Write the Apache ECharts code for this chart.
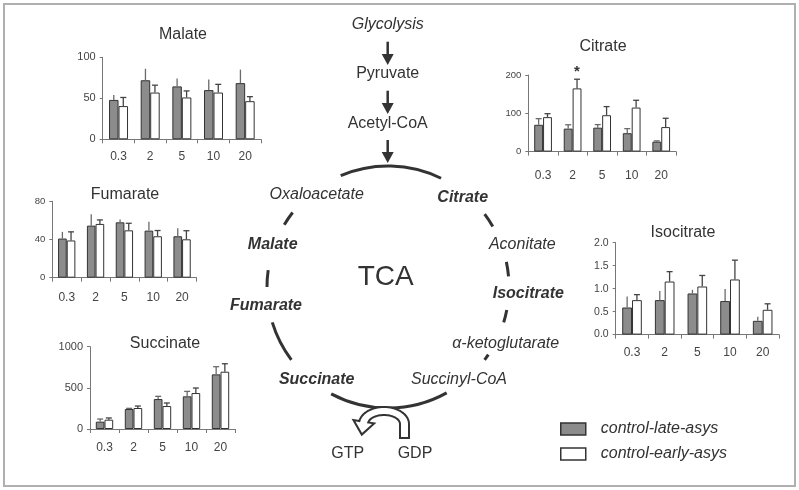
<!DOCTYPE html>
<html><head><meta charset="utf-8">
<script src="https://cdn.jsdelivr.net/npm/echarts@6/dist/echarts.min.js"></script>
<style>html,body{margin:0;padding:0;background:#fff}#c{width:799px;height:490px}</style>
</head><body><div id="c"></div><script>
// ---------- DATA ----------
const categories = ['0.3', '2', '5', '10', '20'];
const seriesNames = ['control-late-asys', 'control-early-asys'];

const malateLate = [48, 72, 64.5, 60, 68.5];
const malateLateSD = [6, 14, 9.5, 13, 16.5];
const malateEarly = [40.5, 57, 51, 57, 46.5];
const malateEarlySD = [10.5, 9, 8, 10, 5.5];
const malateTicks = [0, 50, 100];

const citrateLate = [70, 60, 62.5, 48, 26];
const citrateLateSD = [16, 10, 8, 12, 2];
const citrateEarly = [90, 165, 95, 115, 64];
const citrateEarlySD = [9, 24, 22.5, 19, 23];
const citrateEarlySig = ['', '*', '', '', ''];
const citrateTicks = [0, 100, 200];

const fumarateLate = [41, 54.5, 58, 49.3, 43.4];
const fumarateLateSD = [7, 12, 3, 9.4, 8.3];
const fumarateEarly = [39, 56.3, 49.6, 43.4, 40.2];
const fumarateEarlySD = [9, 4.2, 7.4, 6, 9];
const fumarateTicks = [0, 40, 80];

const isocitrateLate = [0.59, 0.75, 0.895, 0.73, 0.30];
const isocitrateLateSD = [0.24, 0.2, 0.08, 0.26, 0.09];
const isocitrateEarly = [0.75, 1.155, 1.047, 1.2, 0.54];
const isocitrateEarlySD = [0.12, 0.215, 0.24, 0.42, 0.13];
const isocitrateTicks = [0, 0.5, 1.0, 1.5, 2.0];

const succinateLate = [89, 243, 364, 397, 664];
const succinateLateSD = [32, 8, 33, 60, 93];
const succinateEarly = [113, 255, 279, 437, 696];
const succinateEarlySD = [21, 24, 37, 61, 97];
const succinateTicks = [0, 500, 1000];

// ---------- LAYOUT ----------
const FONT = '"Liberation Sans", Arial, sans-serif';
const TXT = '#333';
const panels = [
  {title:'Malate', late:malateLate, lateSD:malateLateSD, early:malateEarly, earlySD:malateEarlySD, ticks:malateTicks, dec:0,
   grid:{left:102.7, top:57.3, width:158.3, height:82}, tx:183, ty:35, xm:11, yf:11, lateCap:false},
  {title:'Citrate', late:citrateLate, lateSD:citrateLateSD, early:citrateEarly, earlySD:citrateEarlySD, earlySig:citrateEarlySig, ticks:citrateTicks, dec:0,
   grid:{left:528.3, top:75, width:147.7, height:76.6}, tx:603, ty:47, xm:18, yf:9.5, lateCap:true},
  {title:'Fumarate', late:fumarateLate, lateSD:fumarateLateSD, early:fumarateEarly, earlySD:fumarateEarlySD, ticks:fumarateTicks, dec:0,
   grid:{left:52.3, top:201.3, width:144.2, height:76.4}, tx:125, ty:195, xm:14, yf:9.5, lateCap:false},
  {title:'Isocitrate', late:isocitrateLate, lateSD:isocitrateLateSD, early:isocitrateEarly, earlySD:isocitrateEarlySD, ticks:isocitrateTicks, dec:1,
   grid:{left:615.7, top:242.7, width:163.3, height:91.9}, tx:683, ty:233, xm:12, yf:10.5, lateCap:false},
  {title:'Succinate', late:succinateLate, lateSD:succinateLateSD, early:succinateEarly, earlySD:succinateEarlySD, ticks:succinateTicks, dec:0,
   grid:{left:90, top:346.7, width:145, height:82.3}, tx:165, ty:344, xm:13, yf:11, lateCap:true}
];

function errRender(side, cap, sig) {
  return function (params, api) {
    const i = api.value(0), v = api.value(1), sd = api.value(2);
    const base = api.coord([i, v]);
    const top = api.coord([i, v + sd]);
    const band = api.size([1, 0])[0];
    const bw = band * 0.3;
    const x = base[0] + (side === 0 ? -bw / 2 : bw / 2);
    const col = side === 0 ? '#6a6a6a' : '#444';
    const ch = [{type:'line', shape:{x1:x, y1:base[1], x2:x, y2:top[1]}, style:{stroke:col, lineWidth:1.3}}];
    if (cap) ch.push({type:'line', shape:{x1:x - 3, y1:top[1], x2:x + 3, y2:top[1]}, style:{stroke:col, lineWidth:1.3}});
    if (sig && sig[i]) ch.push({type:'text', style:{text:sig[i], x:x, y:top[1], textAlign:'center', textVerticalAlign:'bottom', font:'bold 15px ' + FONT, fill:TXT}});
    return {type:'group', children:ch};
  };
}

const grids = [], xAxes = [], yAxes = [], series = [], graphics = [];
panels.forEach((p, k) => {
  grids.push(Object.assign({containLabel:false}, p.grid));
  xAxes.push({gridIndex:k, type:'category', data:categories, boundaryGap:true,
    axisLine:{lineStyle:{color:'#777', width:1}},
    axisTick:{show:true, length:4, lineStyle:{color:'#777'}},
    axisLabel:{color:'#444', fontSize:12, fontFamily:FONT, margin:p.xm}});
  const t = p.ticks;
  yAxes.push({gridIndex:k, type:'value', min:t[0], max:t[t.length - 1], interval:t[1] - t[0],
    splitLine:{show:false},
    axisLine:{show:true, lineStyle:{color:'#777', width:1}},
    axisTick:{show:true, length:3, lineStyle:{color:'#777'}},
    axisLabel:{color:'#444', fontSize:p.yf, fontFamily:FONT, margin:7,
      formatter:(v) => Number(v).toFixed(p.dec)}});
  series.push({name:seriesNames[0], type:'bar', xAxisIndex:k, yAxisIndex:k, data:p.late,
    barGap:'0%', barCategoryGap:'40%', silent:true,
    itemStyle:{color:'#8c8c8c', borderColor:'#333', borderWidth:1}});
  series.push({name:seriesNames[1], type:'bar', xAxisIndex:k, yAxisIndex:k, data:p.early,
    barGap:'0%', barCategoryGap:'40%', silent:true,
    itemStyle:{color:'#ffffff', borderColor:'#333', borderWidth:1}});
  series.push({type:'custom', xAxisIndex:k, yAxisIndex:k, silent:true, z:5,
    data:p.late.map((v, i) => [i, v, p.lateSD[i]]), encode:{x:0, y:1},
    renderItem:errRender(0, p.lateCap, null)});
  series.push({type:'custom', xAxisIndex:k, yAxisIndex:k, silent:true, z:5,
    data:p.early.map((v, i) => [i, v, p.earlySD[i]]), encode:{x:0, y:1},
    renderItem:errRender(1, true, p.earlySig)});
  graphics.push({type:'text', silent:true, style:{text:p.title, x:p.tx, y:p.ty, textAlign:'center', textVerticalAlign:'middle', font:'16px ' + FONT, fill:TXT}});
});

// ---------- DIAGRAM ----------
const D = Math.PI / 180;
graphics.push({type:'rect', silent:true, shape:{x:4, y:4, width:791, height:482}, style:{stroke:'#b0b0b0', lineWidth:2, fill:null}});
const cx = 388, cy = 287, R = 121;
[[-113, -64], [-37, -30], [-12, -5], [11, 17], [34, 37], [61, 118], [143, 163], [180, 188], [211, 218]].forEach(a => {
  graphics.push({type:'arc', silent:true, shape:{cx:cx, cy:cy, r:R, startAngle:a[0] * D, endAngle:a[1] * D, clockwise:true},
    style:{stroke:'#333', lineWidth:3, fill:null}});
});
function vArrow(x, y0, y1) {
  graphics.push({type:'line', silent:true, shape:{x1:x, y1:y0, x2:x, y2:y1 - 9}, style:{stroke:'#333', lineWidth:2.5}});
  graphics.push({type:'polygon', silent:true, shape:{points:[[x - 6, y1 - 11], [x + 6, y1 - 11], [x, y1]]}, style:{fill:'#333'}});
}
vArrow(387.7, 41.7, 65);
vArrow(387.7, 90.7, 114);
vArrow(387.7, 140, 163);

// hollow curved arrow GDP -> GTP
(function () {
  const ex = 384, ey = 424;
  const oR = [25, 17], iR = [16, 9];
  const endA = -170;
  const pts = [];
  pts.push([ex + oR[0], 438]);
  for (let a = 0; a >= endA; a -= 5) pts.push([ex + oR[0] * Math.cos(a * D), ey + oR[1] * Math.sin(a * D)]);
  const oe = [ex + oR[0] * Math.cos(endA * D), ey + oR[1] * Math.sin(endA * D)];
  const ie = [ex + iR[0] * Math.cos(endA * D), ey + iR[1] * Math.sin(endA * D)];
  let dx = ie[0] - oe[0], dy = ie[1] - oe[1];
  const L = Math.hypot(dx, dy); dx /= L; dy /= L;
  const mid = [(oe[0] + ie[0]) / 2, (oe[1] + ie[1]) / 2];
  let tx = -dy, ty = dx; if (ty < 0) { tx = -tx; ty = -ty; }
  pts.push([oe[0] - dx * 6, oe[1] - dy * 6]);
  pts.push([mid[0] + tx * 13, mid[1] + ty * 13]);
  pts.push([ie[0] + dx * 6, ie[1] + dy * 6]);
  for (let a = endA; a <= 0; a += 5) pts.push([ex + iR[0] * Math.cos(a * D), ey + iR[1] * Math.sin(a * D)]);
  pts.push([ex + iR[0], ey]);
  pts.push([ex + iR[0], 438]);
  graphics.push({type:'polygon', silent:true, z:10, shape:{points:pts}, style:{fill:'#fff', stroke:'#333', lineWidth:2}});
})();

function txt(t, x, y, font, extra) {
  graphics.push({type:'text', silent:true, z:20, style:Object.assign({text:t, x:x, y:y, textAlign:'center', textVerticalAlign:'middle', font:font, fill:TXT}, extra || {})});
}
const IT = 'italic 16px ' + FONT, BI = 'italic bold 16px ' + FONT, NR = '16px ' + FONT;
txt('Glycolysis', 387.7, 25, IT);
txt('Pyruvate', 387.7, 74, NR);
txt('Acetyl-CoA', 387.7, 124, NR);
txt('TCA', 385.7, 277, '28px ' + FONT);
txt('Oxaloacetate', 316.7, 195, IT);
txt('Citrate', 462.7, 197.7, BI);
txt('Aconitate', 522.3, 244.3, IT);
txt('Malate', 272.7, 244.3, BI);
txt('Isocitrate', 528.3, 294, BI);
txt('Fumarate', 266, 306, BI);
txt('α-ketoglutarate', 505.7, 343.3, IT);
txt('Succinate', 316.7, 380, BI);
txt('Succinyl-CoA', 459, 380, IT);
txt('GTP', 347.7, 453.3, NR);
txt('GDP', 415, 453.3, NR);

const chart = echarts.init(document.getElementById('c'), null, {renderer:'canvas'});
chart.setOption({
  animation:false,
  backgroundColor:'#fff',
  grid:grids, xAxis:xAxes, yAxis:yAxes, series:series,
  legend:{data:seriesNames, orient:'vertical', left:560, top:421, padding:0, itemWidth:25, itemHeight:12, itemGap:9,
    icon:'rect', selectedMode:false,
    itemStyle:{borderColor:'#333', borderWidth:1.5},
    textStyle:{fontStyle:'italic', fontSize:16, color:TXT, fontFamily:FONT, padding:[0, 0, 0, 10]}},
  graphic:graphics
});
</script></body></html>
